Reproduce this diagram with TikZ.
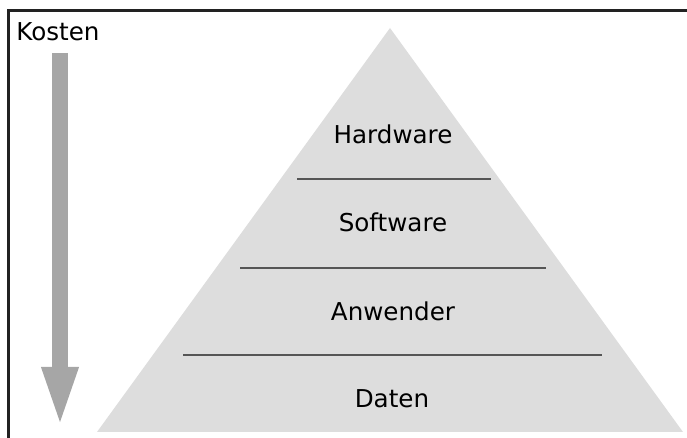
\documentclass[tikz,border=0pt]{standalone}
\usepackage{fontspec}
\setmainfont{DejaVu Sans}
\usetikzlibrary{arrows.meta}
\definecolor{pyrfill}{HTML}{DDDDDD}
\definecolor{costgray}{HTML}{A6A6A6}
\definecolor{sepgray}{HTML}{555555}
\definecolor{framegray}{HTML}{222222}
\tikzstyle{layer}=[anchor=base,inner sep=0pt,font=\fontsize{12.3}{14}\selectfont]
\tikzstyle{sepline}=[draw=sepgray,line width=1pt]
\tikzstyle{costarrow}=[draw=costgray,line width=8pt,-{Triangle[width=16pt,length=31.5pt]}]

\begin{document}
\begin{tikzpicture}[x=0.5pt,y=-0.5pt]
    \useasboundingbox (0,0) rectangle (687,438);
    % frame, only top and left edge
    \draw[framegray,line width=1.5pt] (8,438) -- (8,11) -- (687,11);

    % pyramid
    \fill[pyrfill] (390,28) -- (683,432) -- (97,432) -- cycle;

    \node[layer] (hw) at (393,144) {Hardware};
    \node[layer] (sw) at (393,232) {Software};
    \node[layer] (aw) at (393,321) {Anwender};
    \node[layer] (da) at (392,408) {Daten};

    \coordinate (s1l) at (297,179);
    \coordinate (s1r) at (491,179);
    \coordinate (s2l) at (240,268);
    \coordinate (s2r) at (546,268);
    \coordinate (s3l) at (183,355);
    \coordinate (s3r) at (602,355);
    \foreach \from/\to in {s1l/s1r,s2l/s2r,s3l/s3r}
    \draw[sepline] (\from) -- (\to);

    % cost arrow
    \node[anchor=base west,inner sep=0pt,font=\fontsize{12.3}{14}\selectfont] (kosten) at (16,41) {Kosten};
    \coordinate (ctop) at (60,53);
    \coordinate (cbot) at (60,430);
    \draw[costarrow] (ctop) -- (cbot);
\end{tikzpicture}
\end{document}
